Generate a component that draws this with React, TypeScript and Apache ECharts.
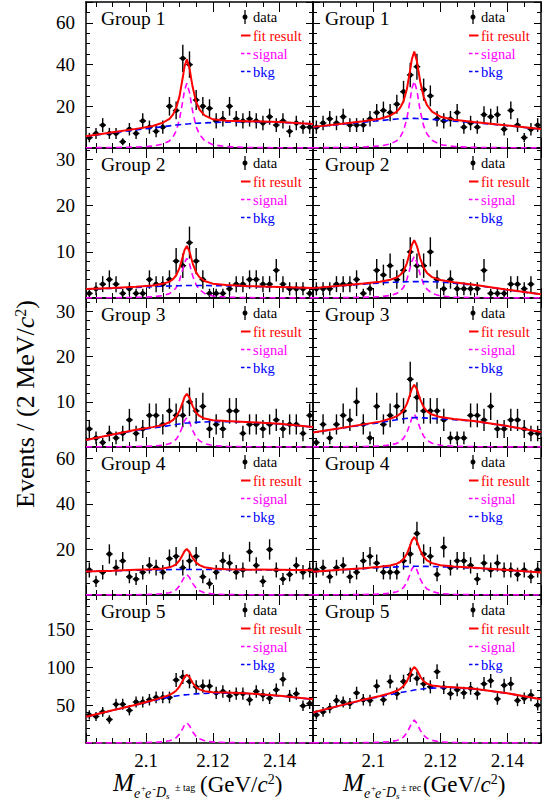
import React, { useEffect, useRef } from 'react';
import * as echarts from 'echarts';

const FONT = "'Liberation Serif', 'DejaVu Serif', serif";

// bin centres (GeV/c^2), 2 MeV bins
const binCenters = [2.083, 2.085, 2.087, 2.089, 2.091, 2.093, 2.095, 2.097, 2.099, 2.101, 2.103, 2.105, 2.107, 2.109, 2.111, 2.113, 2.115, 2.117, 2.119, 2.121, 2.123, 2.125, 2.127, 2.129, 2.131, 2.133, 2.135, 2.137, 2.139, 2.141, 2.143, 2.145, 2.147, 2.149];

// x positions at which the fitted curves were read
const curveX = [2.082, 2.09, 2.097, 2.102, 2.105, 2.107, 2.108, 2.109, 2.11, 2.111, 2.1115, 2.1122, 2.113, 2.1135, 2.114, 2.115, 2.116, 2.1175, 2.12, 2.124, 2.13, 2.14, 2.15];

// ---- Group 1 ----
const g1TagData = [5, 7, 11, 7, 7, 3, 9, 7, 13, 10, 8, 10, 20, 18, 43, 40, 23, 20, 19, 13, 14, 20, 14, 13, 14, 13, 12, 15, 11, 13, 8, 12, 10, 10];
const g1TagSig = [0.12, 0.22, 0.47, 0.93, 1.9, 3.4, 5.1, 8.1, 13.6, 22.6, 27.6, 31, 26.7, 21.7, 17.1, 10.2, 6.5, 3.6, 1.55, 0.68, 0.28, 0.12, 0.06];
const g1TagBkg = [5.5, 7.3, 8.7, 9.6, 10.2, 10.6, 10.8, 11.0, 11.15, 11.3, 11.4, 11.5, 11.6, 11.7, 11.75, 11.85, 11.95, 12.05, 12.2, 12.4, 12.6, 12.3, 11.5];
const g1RecData = [10, 12, 14, 12, 15, 11, 11, 11, 14, 17, 18, 17, 21, 27, 35, 39, 28, 25, 14, 13, 14, 17, 10, 12, 10, 16, 15, 16, 9, 18, 11, 5, 9, 11];
const g1RecSig = [0.13, 0.22, 0.48, 0.96, 1.9, 3.5, 5.3, 8.3, 14.1, 23.4, 28.5, 32, 27.5, 22.4, 17.6, 10.6, 6.7, 3.7, 1.6, 0.7, 0.29, 0.13, 0.06];
const g1RecBkg = [10.0, 11.3, 12.4, 13.1, 13.6, 13.9, 14.0, 14.1, 14.15, 14.2, 14.2, 14.2, 14.15, 14.1, 14.05, 13.95, 13.85, 13.7, 13.4, 12.9, 12.2, 10.7, 9.0];

// ---- Group 2 ----
const g2TagData = [1, 2, 3, 4, 3, 1, 2, 1, 1, 4, 3, 3, 4, 8, 7, 12, 8, 4, 1, 1, 1, 2, 3, 3, 4, 4, 3, 3, 6, 3, 2, 2, 2, 1];
const g2TagSig = [0.03, 0.06, 0.13, 0.26, 0.52, 0.95, 1.42, 2.24, 3.8, 6.3, 7.65, 8.6, 7.4, 6.0, 4.7, 2.84, 1.8, 0.99, 0.43, 0.19, 0.08, 0.03, 0.02];
const g2TagBkg = [1.9, 2.1, 2.3, 2.45, 2.55, 2.6, 2.62, 2.64, 2.66, 2.68, 2.69, 2.7, 2.7, 2.7, 2.7, 2.7, 2.7, 2.7, 2.68, 2.62, 2.52, 2.35, 2.15];
const g2RecData = [2, 2, 2, 3, 3, 3, 4, 1, 2, 6, 5, 7, 4, 6, 10, 7, 7, 10, 4, 2, 4, 2, 2, 2, 2, 6, 1, 1, 1, 3, 3, 2, 3, 0];
const g2RecSig = [0.04, 0.06, 0.14, 0.27, 0.54, 1.0, 1.5, 2.3, 4.0, 6.6, 8.0, 9.0, 7.7, 6.3, 5.0, 3.0, 1.9, 1.0, 0.45, 0.2, 0.08, 0.04, 0.02];
const g2RecBkg = [2.1, 2.6, 3.0, 3.25, 3.4, 3.45, 3.48, 3.5, 3.52, 3.53, 3.54, 3.55, 3.55, 3.55, 3.55, 3.55, 3.54, 3.52, 3.45, 3.2, 2.8, 1.75, 0.8];

// ---- Group 3 ----
const g3TagData = [4, 2, 1, 3, 2, 3, 6, 3, 4, 7, 7, 5, 8, 7, 7, 10, 8, 9, 4, 5, 4, 8, 8, 3, 5, 5, 4, 5, 6, 4, 5, 5, 3, 7];
const g3TagSig = [0.03, 0.05, 0.1, 0.2, 0.39, 0.72, 1.07, 1.7, 2.86, 4.75, 5.8, 6.5, 5.6, 4.55, 3.6, 2.15, 1.37, 0.75, 0.33, 0.14, 0.06, 0.03, 0.01];
const g3TagBkg = [1.5, 2.7, 3.7, 4.2, 4.5, 4.75, 4.87, 5.0, 5.1, 5.2, 5.25, 5.3, 5.35, 5.4, 5.4, 5.45, 5.5, 5.55, 5.6, 5.6, 5.5, 5.1, 4.4];
const g3RecData = [1, 5, 2, 5, 7, 6, 10, 5, 2, 9, 5, 7, 9, 8, 15, 11, 8, 8, 8, 6, 2, 2, 2, 7, 7, 6, 9, 4, 4, 6, 6, 4, 3, 3];
const g3RecSig = [0.03, 0.05, 0.11, 0.22, 0.44, 0.8, 1.2, 1.9, 3.2, 5.3, 6.5, 7.3, 6.3, 5.1, 4.0, 2.4, 1.5, 0.84, 0.37, 0.16, 0.07, 0.03, 0.015];
const g3RecBkg = [3.2, 4.1, 4.9, 5.4, 5.8, 6.05, 6.15, 6.25, 6.35, 6.42, 6.46, 6.5, 6.5, 6.5, 6.48, 6.45, 6.4, 6.35, 6.25, 6.05, 5.7, 4.6, 3.3];

// ---- Group 4 ----
const g4TagData = [11, 6, 10, 18, 12, 15, 8, 7, 10, 13, 12, 10, 16, 17, 12, 15, 17, 8, 5, 10, 15, 14, 10, 11, 19, 13, 6, 20, 11, 7, 9, 13, 10, 11];
const g4TagSig = [0.04, 0.06, 0.14, 0.27, 0.54, 1.0, 1.5, 2.3, 4.0, 6.6, 8.0, 9.0, 7.7, 6.3, 5.0, 3.0, 1.9, 1.0, 0.45, 0.2, 0.08, 0.04, 0.02];
const g4TagBkg = [10.3, 10.6, 10.9, 11.0, 11.1, 11.15, 11.2, 11.2, 11.2, 11.2, 11.2, 11.2, 11.2, 11.2, 11.2, 11.2, 11.2, 11.2, 11.2, 11.15, 11.1, 11.0, 10.9];
const g4RecData = [11, 12, 8, 12, 13, 8, 10, 15, 17, 14, 10, 10, 10, 15, 18, 27, 18, 17, 9, 21, 12, 15, 15, 13, 7, 14, 11, 14, 11, 11, 9, 11, 8, 11];
const g4RecSig = [0.05, 0.09, 0.19, 0.38, 0.77, 1.4, 2.1, 3.3, 5.6, 9.3, 11.4, 12.8, 11.0, 9.0, 7.0, 4.2, 2.7, 1.5, 0.64, 0.28, 0.12, 0.05, 0.03];
const g4RecBkg = [10.2, 11.0, 11.6, 12.0, 12.2, 12.35, 12.4, 12.45, 12.5, 12.55, 12.58, 12.6, 12.6, 12.6, 12.6, 12.58, 12.55, 12.5, 12.4, 12.2, 11.8, 10.9, 9.8];

// ---- Group 5 ----
const g5TagData = [37, 35, 41, 31, 51, 51, 43, 54, 54, 57, 60, 60, 60, 83, 87, 81, 74, 75, 75, 66, 68, 62, 65, 65, 57, 68, 63, 59, 70, 84, 62, 65, 49, 52];
const g5TagSig = [0.1, 0.19, 0.4, 0.8, 1.6, 2.9, 4.4, 6.9, 11.7, 19.3, 23.6, 26.5, 22.8, 18.6, 14.6, 8.7, 5.6, 3.0, 1.3, 0.6, 0.24, 0.1, 0.05];
const g5TagBkg = [34.5, 43, 50, 55.5, 58.5, 60.5, 61.3, 62, 62.6, 63.1, 63.4, 63.6, 64.0, 64.2, 64.4, 64.7, 65.0, 65.3, 65.6, 65.8, 65.3, 62.0, 57.5];
const g5RecData = [37, 41, 46, 56, 54, 52, 66, 57, 56, 75, 57, 81, 65, 81, 90, 85, 78, 74, 94, 73, 65, 70, 66, 72, 65, 78, 82, 58, 76, 78, 56, 59, 63, 50];
const g5RecSig = [0.12, 0.21, 0.45, 0.9, 1.8, 3.3, 5.0, 7.9, 13.3, 22.1, 27.0, 30.3, 26.1, 21.2, 16.7, 10.0, 6.4, 3.5, 1.5, 0.67, 0.27, 0.12, 0.06];
const g5RecBkg = [40, 49, 56.5, 61, 63.8, 65.5, 66.4, 67.2, 68.0, 68.8, 69.2, 69.8, 70.3, 70.6, 70.9, 71.4, 71.8, 72.3, 72.8, 72.8, 71.3, 65.4, 57.5];

const groupNames = ['Group 1', 'Group 2', 'Group 3', 'Group 4', 'Group 5'];
const legendLabels = ['data', 'fit result', 'signal', 'bkg'];

const panels = [
  { row: 0, col: 0, data: g1TagData, sig: g1TagSig, bkg: g1TagBkg },
  { row: 0, col: 1, data: g1RecData, sig: g1RecSig, bkg: g1RecBkg },
  { row: 1, col: 0, data: g2TagData, sig: g2TagSig, bkg: g2TagBkg },
  { row: 1, col: 1, data: g2RecData, sig: g2RecSig, bkg: g2RecBkg },
  { row: 2, col: 0, data: g3TagData, sig: g3TagSig, bkg: g3TagBkg },
  { row: 2, col: 1, data: g3RecData, sig: g3RecSig, bkg: g3RecBkg },
  { row: 3, col: 0, data: g4TagData, sig: g4TagSig, bkg: g4TagBkg },
  { row: 3, col: 1, data: g4RecData, sig: g4RecSig, bkg: g4RecBkg },
  { row: 4, col: 0, data: g5TagData, sig: g5TagSig, bkg: g5TagBkg },
  { row: 4, col: 1, data: g5RecData, sig: g5RecSig, bkg: g5RecBkg },
];

// layout / axis settings
const rowTop = [2, 148, 298, 447, 595];
const rowHeight = [146, 150, 149, 148, 148];
const colLeft = [86, 313];
const colWidth = [227, 228];
const yMaxes = [70, 32.5, 33, 65, 195];
const yIntervals = [20, 10, 10, 20, 50];
const yMinorSplits = [4, 5, 5, 4, 5];
const X_MIN = 2.082;
const X_MAX = 2.15;
const HALF_BIN = 0.001;

const RED = '#ff0000';
const MAGENTA = '#ff00ff';
const BLUE = '#0000ff';

function renderData(params: any, api: any) {
  const x = api.value(0);
  const y = api.value(1);
  const e = api.value(2);
  const c = api.coord([x, y]);
  const t = api.coord([x, y + e]);
  const b = api.coord([x, Math.max(0, y - e)]);
  const l = api.coord([x - HALF_BIN, y]);
  const r = api.coord([x + HALF_BIN, y]);
  const ls = { stroke: '#000', lineWidth: 1.4 };
  return {
    type: 'group',
    children: [
      { type: 'line', shape: { x1: c[0], y1: t[1], x2: c[0], y2: b[1] }, style: ls },
      { type: 'line', shape: { x1: l[0], y1: c[1], x2: r[0], y2: c[1] }, style: ls },
      { type: 'circle', shape: { cx: c[0], cy: c[1], r: 2.5 }, style: { fill: '#000' } },
    ],
  };
}

function txt(x: number, y: number, text: string, size: number, fill = '#000', extra: any = {}) {
  return {
    type: 'text',
    x,
    y,
    silent: true,
    style: {
      text,
      fill,
      fontSize: size,
      fontFamily: FONT,
      align: 'left',
      textAlign: 'left',
      verticalAlign: 'middle',
      textVerticalAlign: 'middle',
      ...extra,
    },
  };
}

function buildOption() {
  const grid: any[] = [];
  const xAxis: any[] = [];
  const yAxis: any[] = [];
  const series: any[] = [];
  const graphic: any[] = [];

  const xFmt = (v: number) => {
    const k = v / 0.02;
    return Math.abs(k - Math.round(k)) < 1e-6 ? String(Math.round(v * 100) / 100) : '';
  };

  panels.forEach((p, k) => {
    const left = colLeft[p.col];
    const top = rowTop[p.row];
    const w = colWidth[p.col];
    const h = rowHeight[p.row];
    const isBottom = p.row === 4;
    const isLeft = p.col === 0;
    const yInt = yIntervals[p.row];
    grid.push({ left, top, width: w, height: h, show: false, containLabel: false });

    const lineStyle = { color: '#000', width: 1.5 };
    const xBase = {
      type: 'value',
      gridIndex: k,
      min: X_MIN,
      max: X_MAX,
      splitNumber: 3,
      splitLine: { show: false },
      axisLine: { show: true, onZero: false, lineStyle },
      axisTick: { show: true, inside: true, length: 10, lineStyle: { color: '#000', width: 1 } },
      minorTick: { show: true, splitNumber: 4, length: 5, lineStyle: { color: '#000', width: 1 } },
    };
    xAxis.push({
      ...xBase,
      position: 'bottom',
      axisLabel: { show: isBottom, margin: 8, fontSize: 19, fontFamily: FONT, color: '#000', formatter: xFmt },
    });
    xAxis.push({ ...xBase, position: 'top', axisLabel: { show: false } });

    const yFmt = (v: number) => {
      const q = v / yInt;
      return v > 0 && Math.abs(q - Math.round(q)) < 1e-6 ? String(v) : '';
    };
    const yBase = {
      type: 'value',
      gridIndex: k,
      min: 0,
      max: yMaxes[p.row],
      interval: yInt,
      splitLine: { show: false },
      axisLine: { show: true, onZero: false, lineStyle },
      axisTick: { show: true, inside: true, length: 7, lineStyle: { color: '#000', width: 1 } },
      minorTick: { show: true, splitNumber: yMinorSplits[p.row], length: 4, lineStyle: { color: '#000', width: 1 } },
    };
    yAxis.push({
      ...yBase,
      position: 'left',
      axisLabel: { show: isLeft, margin: 11, fontSize: 19, fontFamily: FONT, color: '#000', formatter: yFmt },
    });
    yAxis.push({ ...yBase, position: 'right', axisLabel: { show: false } });

    const ax = { xAxisIndex: 2 * k, yAxisIndex: 2 * k };
    series.push({
      type: 'custom',
      name: 'data',
      ...ax,
      renderItem: renderData,
      encode: { x: 0, y: 1 },
      clip: true,
      z: 2,
      data: binCenters
        .map((x, i) => [x, p.data[i], Math.sqrt(p.data[i])])
        .filter((d) => d[1] > 0),
    });
    series.push({
      type: 'line',
      name: 'signal',
      ...ax,
      showSymbol: false,
      symbol: 'none',
      silent: true,
      z: 3,
      lineStyle: { color: MAGENTA, width: 1.6, type: [6, 4] },
      data: curveX.map((x, i) => [x, p.sig[i]]),
    });
    series.push({
      type: 'line',
      name: 'bkg',
      ...ax,
      showSymbol: false,
      symbol: 'none',
      silent: true,
      z: 3,
      lineStyle: { color: BLUE, width: 1.6, type: [6, 4] },
      data: curveX.map((x, i) => [x, p.bkg[i]]),
    });
    series.push({
      type: 'line',
      name: 'fit result',
      ...ax,
      showSymbol: false,
      symbol: 'none',
      silent: true,
      z: 4,
      lineStyle: { color: RED, width: 2 },
      data: curveX.map((x, i) => [x, p.sig[i] + p.bkg[i]]),
    });

    // group label
    graphic.push(txt(left + (isLeft ? 15 : 12), top + 16, groupNames[p.row], 19.5));

    // legend
    const mx = left + (isLeft ? 159 : 160);
    const l0 = left + (isLeft ? 155 : 156);
    const l1 = l0 + 9.5;
    const tx = left + (isLeft ? 167 : 168);
    const ys = [top + 15, top + 33.5, top + 51.5, top + 69.5];
    graphic.push({
      type: 'line',
      silent: true,
      shape: { x1: mx, y1: ys[0] - 7, x2: mx, y2: ys[0] + 7 },
      style: { stroke: '#000', lineWidth: 1.3 },
    });
    graphic.push({ type: 'circle', silent: true, shape: { cx: mx, cy: ys[0], r: 2.5 }, style: { fill: '#000' } });
    graphic.push({
      type: 'line',
      silent: true,
      shape: { x1: l0, y1: ys[1], x2: l1, y2: ys[1] },
      style: { stroke: RED, lineWidth: 2 },
    });
    graphic.push({
      type: 'line',
      silent: true,
      shape: { x1: l0, y1: ys[2], x2: l1, y2: ys[2] },
      style: { stroke: MAGENTA, lineWidth: 1.5, lineDash: [3.5, 2.5] },
    });
    graphic.push({
      type: 'line',
      silent: true,
      shape: { x1: l0, y1: ys[3], x2: l1, y2: ys[3] },
      style: { stroke: BLUE, lineWidth: 1.5, lineDash: [3.5, 2.5] },
    });
    const legendColors = ['#000', RED, MAGENTA, BLUE];
    legendLabels.forEach((lab, i) => graphic.push(txt(tx, ys[i], lab, 14.5, legendColors[i])));
  });

  // y-axis title
  graphic.push({
    type: 'text',
    x: 25,
    y: 404,
    rotation: Math.PI / 2,
    silent: true,
    style: {
      text: 'Events / (2 MeV/{i|c}{s|2})',
      fill: '#000',
      fontSize: 26,
      fontFamily: FONT,
      align: 'center',
      textAlign: 'center',
      verticalAlign: 'middle',
      textVerticalAlign: 'middle',
      rich: {
        i: { fontSize: 26, fontFamily: FONT, fontStyle: 'italic', fill: '#000' },
        s: { fontSize: 16, fontFamily: FONT, fill: '#000', verticalAlign: 'top' },
      },
    },
  });

  // x-axis titles
  const xTitle = (ox: number, supText: string, supX: number, unitX: number) => {
    graphic.push(txt(ox, 782, 'M', 25, '#000', { fontStyle: 'italic' }));
    graphic.push(txt(ox + 21, 793.5, 'e', 14, '#000', { fontStyle: 'italic' }));
    graphic.push(txt(ox + 28, 788, '+', 9));
    graphic.push(txt(ox + 32, 793.5, 'e', 14, '#000', { fontStyle: 'italic' }));
    graphic.push(txt(ox + 39.5, 788, '-', 10));
    graphic.push(txt(ox + 43, 792.5, 'D', 14, '#000', { fontStyle: 'italic' }));
    graphic.push(txt(ox + 53, 796, 's', 9, '#000', { fontStyle: 'italic' }));
    graphic.push(txt(supX, 787, supText, 10));
    graphic.push({
      type: 'text',
      x: unitX,
      y: 784,
      silent: true,
      style: {
        text: '(GeV/{i|c}{s|2})',
        fill: '#000',
        fontSize: 23,
        fontFamily: FONT,
        align: 'left',
        textAlign: 'left',
        verticalAlign: 'middle',
        textVerticalAlign: 'middle',
        rich: {
          i: { fontSize: 23, fontFamily: FONT, fontStyle: 'italic', fill: '#000' },
          s: { fontSize: 14, fontFamily: FONT, fill: '#000', verticalAlign: 'top' },
        },
      },
    });
  };
  xTitle(113, '\u00b1 tag', 175, 200);
  xTitle(343, '\u00b1 rec', 401, 423);

  return {
    animation: false,
    backgroundColor: '#ffffff',
    textStyle: { fontFamily: FONT },
    grid,
    xAxis,
    yAxis,
    series,
    graphic: { elements: graphic },
  };
}

export default function App() {
  const ref = useRef<HTMLDivElement | null>(null);
  useEffect(() => {
    if (!ref.current) return;
    const chart = echarts.init(ref.current, undefined, { renderer: 'svg' });
    chart.setOption(buildOption() as any);
    return () => {
      chart.dispose();
    };
  }, []);
  return (
    <div
      ref={ref}
      style={{ position: 'absolute', left: 0, top: 0, width: 558, height: 802, background: '#fff' }}
    />
  );
}
